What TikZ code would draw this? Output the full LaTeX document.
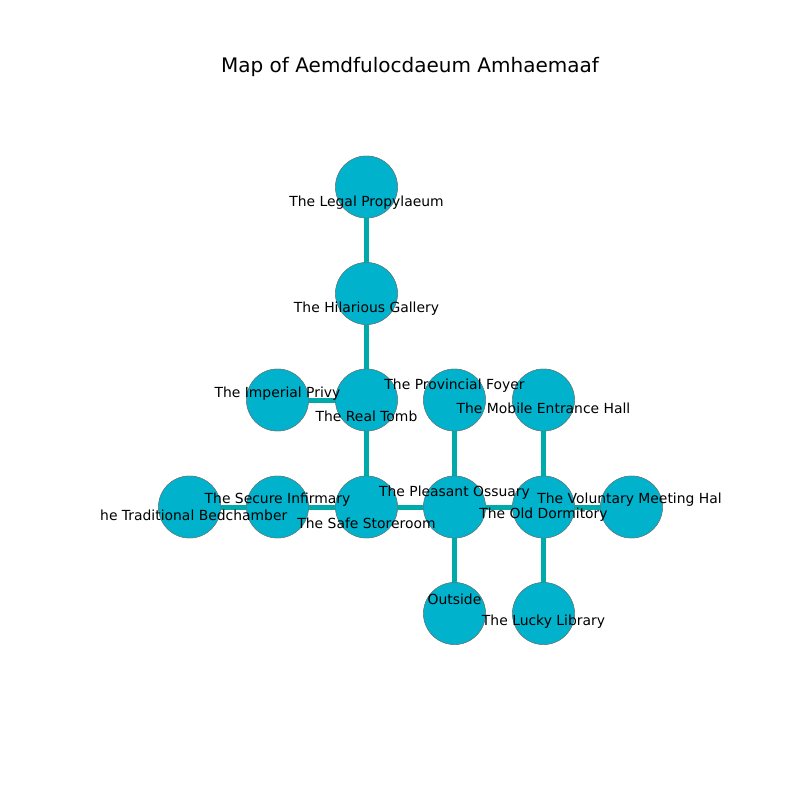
\documentclass[tikz,border=0pt]{standalone}
\usepackage{fontspec}
\setmainfont{DejaVu Sans}
\definecolor{nodefill}{HTML}{00B2CC}
\definecolor{edgecol}{HTML}{00A9AA}
\begin{document}
\begin{tikzpicture}[x=1pt,y=-1pt,
  room/.style={circle,fill=nodefill,draw=black!55,line width=0.4pt,minimum size=62pt,inner sep=0pt},
  link/.style={draw=edgecol,line width=5pt},
  lbl/.style={inner sep=0pt,font=\fontsize{13.9}{16}\selectfont,text=black},
  ttl/.style={inner sep=0pt,font=\fontsize{20}{24}\selectfont,text=black}]
\useasboundingbox (0,0) rectangle (800,800);
\fill[white] (0,0) rectangle (800,800);
% nodes (positions)
\node[room] (legal) at (366.5,187) {};
\node[room] (hil) at (366.5,293.5) {};
\node[room] (real) at (366.5,400) {};
\node[room] (imp) at (277.5,400) {};
\node[room] (prov) at (454.5,400) {};
\node[room] (mob) at (543.5,400) {};
\node[room] (trad) at (189.5,507) {};
\node[room] (sec) at (277.5,507) {};
\node[room] (safe) at (366.5,507) {};
\node[room] (pleas) at (454.5,507) {};
\node[room] (old) at (543.5,507) {};
\node[room] (vol) at (631.5,507) {};
\node[room] (out) at (454.5,613.5) {};
\node[room] (lucky) at (543.5,613.5) {};
% edges
\path[link] (legal.center) -- (hil.center);
\path[link] (hil.center) -- (real.center);
\path[link] (imp.center) -- (real.center);
\path[link] (real.center) -- (safe.center);
\path[link] (trad.center) -- (sec.center);
\path[link] (sec.center) -- (safe.center);
\path[link] (safe.center) -- (pleas.center);
\path[link] (pleas.center) -- (prov.center);
\path[link] (pleas.center) -- (old.center);
\path[link] (pleas.center) -- (out.center);
\path[link] (old.center) -- (mob.center);
\path[link] (old.center) -- (vol.center);
\path[link] (old.center) -- (lucky.center);
% circles on top of edges
\foreach \n in {legal,hil,real,imp,prov,mob,trad,sec,safe,pleas,old,vol,out,lucky}{
  \path[fill=nodefill,draw=black!55,line width=0.4pt] (\n.center) circle (31pt);
}
% labels
\begin{scope}
\clip (100,88) rectangle (720,712);
\node[lbl] (llegal) at (366.5,203) {The Legal Propylaeum};
\node[lbl] (lhil) at (366.5,309) {The Hilarious Gallery};
\node[lbl] (lreal) at (366.5,416) {The Real Tomb};
\node[lbl] (limp) at (277.5,394) {The Imperial Privy};
\node[lbl] (lprov) at (454.5,386) {The Provincial Foyer};
\node[lbl] (lmob) at (543.5,408) {The Mobile Entrance Hall};
\node[lbl] (ltrad) at (189.5,515) {The Traditional Bedchamber};
\node[lbl] (lsec) at (277.5,500) {The Secure Infirmary};
\node[lbl] (lsafe) at (366.5,523) {The Safe Storeroom};
\node[lbl] (lpleas) at (454.5,493) {The Pleasant Ossuary};
\node[lbl] (lold) at (543.5,515) {The Old Dormitory};
\node[lbl] (lvol) at (631.5,500) {The Voluntary Meeting Hall};
\node[lbl] (lout) at (454.5,599) {Outside};
\node[lbl] (llucky) at (543.5,622) {The Lucky Library};
\end{scope}
\node[ttl] (title) at (410,67) {Map of Aemdfulocdaeum Amhaemaaf};
\end{tikzpicture}
\end{document}
